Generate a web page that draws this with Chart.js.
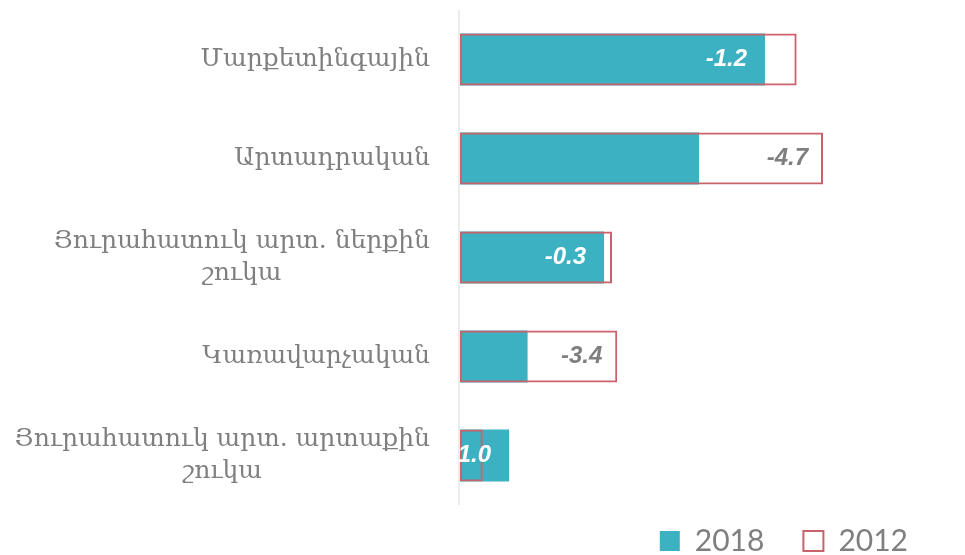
<!DOCTYPE html>
<html>
<head>
<meta charset="utf-8">
<script src="https://cdn.jsdelivr.net/npm/chart.js@4.4.1/dist/chart.umd.min.js"></script>
<style>
    html, body { margin: 0; padding: 0; background: #fff; }
</style>
</head>
<body>
<canvas id="myChart" width="965" height="555"></canvas>
<script>
const categorias = [
    "Մարքետինգային",
    "Արտադրական",
    ["Յուրահատուկ արտ. ներքին", "շուկա"],
    "Կառավարչական",
    ["Յուրահատուկ արտ. արտաքին", "շուկա"]
];
const valores2018 = [11.6, 9.1, 5.5, 2.6, 1.9];
const valores2012 = [12.8, 13.8, 5.8, 6.0, 0.9];
const anos = ["2018", "2012"];

const corTeal = "#3bb1c2";
const corVermelho = "#c9636b";
const corTexto = "#7f7f7f";

// legenda: menos altura reservada e itens desenhados um pouco mais acima
const ajusteLegenda = {
    id: "ajusteLegenda",
    beforeInit(chart) {
        const legenda = chart.legend;
        const fitOriginal = legenda.fit;
        const drawOriginal = legenda.draw;
        legenda.fit = function () {
            fitOriginal.call(this);
            this.height -= 29;
        };
        legenda.draw = function () {
            this.top -= 18;
            drawOriginal.call(this);
            this.top += 18;
        };
    }
};

// rótulos das categorias (linhas centradas entre si, bloco alinhado à direita)
const rotulosCategorias = {
    id: "rotulosCategorias",
    afterDraw(chart) {
        const ctx = chart.ctx;
        const eixoY = chart.scales.y;
        const direita = chart.chartArea.left - 29;
        ctx.save();
        ctx.font = "25px 'DejaVu Serif'";
        ctx.fillStyle = corTexto;
        ctx.textAlign = "center";
        ctx.textBaseline = "middle";
        chart.data.labels.forEach((rotulo, i) => {
            const linhas = [].concat(rotulo);
            const largura = Math.max(...linhas.map(l => ctx.measureText(l).width));
            const cx = direita - largura / 2;
            const cy = eixoY.getPixelForValue(i);
            linhas.forEach((linha, j) => {
                ctx.fillText(linha, cx, cy + (j - (linhas.length - 1) / 2) * 32);
            });
        });
        ctx.restore();
    }
};

// diferença 2018 - 2012 escrita dentro das barras
const rotulosDiferenca = {
    id: "rotulosDiferenca",
    afterDatasetsDraw(chart) {
        const ctx = chart.ctx;
        const eixoX = chart.scales.x;
        const eixoY = chart.scales.y;
        ctx.save();
        ctx.font = "italic bold 24px 'Liberation Sans'";
        ctx.textAlign = "right";
        ctx.textBaseline = "middle";
        for (let i = 0; i < valores2018.length; i++) {
            const texto = (valores2018[i] - valores2012[i]).toFixed(1);
            const largura = ctx.measureText(texto).width;
            const fim2018 = eixoX.getPixelForValue(valores2018[i]);
            const fim2012 = eixoX.getPixelForValue(valores2012[i]);
            const cy = eixoY.getPixelForValue(i);
            if (fim2012 - fim2018 >= largura + 30) {
                ctx.fillStyle = corTexto;
                ctx.fillText(texto, fim2012 - 15, cy);
            } else {
                ctx.fillStyle = "#ffffff";
                ctx.fillText(texto, fim2018 - 18, cy);
            }
        }
        ctx.restore();
    }
};

const config = {
    type: "bar",
    data: {
        labels: categorias,
        datasets: [
            {
                label: anos[0],
                data: valores2018,
                backgroundColor: corTeal,
                borderWidth: 0,
                order: 1,
            },
            {
                label: anos[1],
                data: valores2012,
                backgroundColor: "rgba(255,255,255,0)",
                borderColor: corVermelho,
                borderWidth: 2,
                borderSkipped: false,
                order: 0,
            },
        ],
    },
    options: {
        indexAxis: "y",
        responsive: false,
        animation: false,
        datasets: {
            bar: {
                grouped: false,
                categoryPercentage: 1,
                barPercentage: 0.525,
            },
        },
        layout: {
            padding: { left: 459, right: 18, top: 10, bottom: 0 },
        },
        scales: {
            x: {
                min: 0,
                max: 18.5,
                ticks: { display: false },
                border: { display: false },
                grid: {
                    drawTicks: false,
                    lineWidth: 2,
                    color: ctx => (ctx.tick && ctx.tick.value === 0) ? "#ececec" : "rgba(0,0,0,0)",
                },
            },
            y: { display: false },
        },
        plugins: {
            legend: {
                position: "bottom",
                align: "end",
                labels: {
                    boxWidth: 20,
                    boxHeight: 20,
                    padding: 39,
                    color: corTexto,
                    font: { family: "Lato", size: 30 },
                    sort: (a, b) => a.datasetIndex - b.datasetIndex,
                },
            },
            tooltip: { enabled: false },
        },
    },
    plugins: [ajusteLegenda, rotulosCategorias, rotulosDiferenca],
};

const myChart = new Chart(document.getElementById("myChart").getContext("2d"), config);
</script>
</body>
</html>
